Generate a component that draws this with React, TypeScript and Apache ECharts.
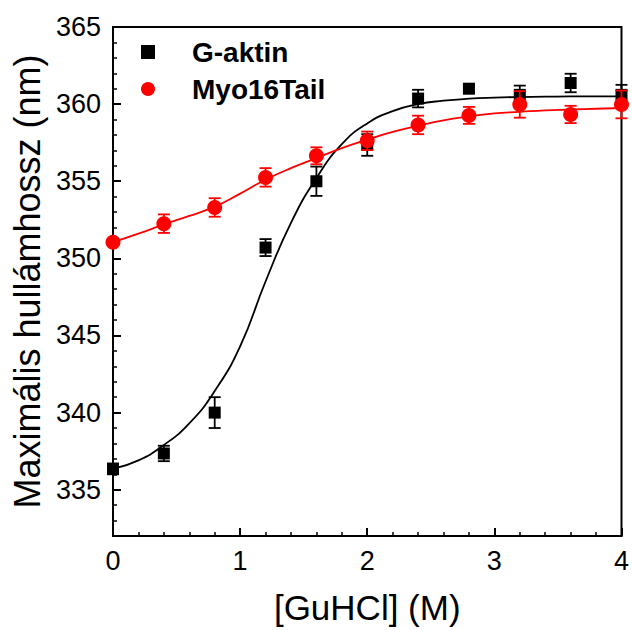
import React, { useEffect, useRef } from "react";
import * as echarts from "echarts";

const FONT = "'Liberation Sans', Arial, sans-serif";

// Measured points
const xVals = [0, 0.4, 0.8, 1.2, 1.6, 2.0, 2.4, 2.8, 3.2, 3.6, 4.0];
const aktinY = [336.35, 337.35, 340.0, 350.7, 355.0, 357.35, 360.36, 361.0, 360.6, 361.37, 360.6];
const aktinErr = [0.35, 0.5, 1.0, 0.55, 0.95, 0.7, 0.57, 0.25, 0.6, 0.6, 0.65];
const myoY = [351.05, 352.25, 353.3, 355.25, 356.65, 357.62, 358.65, 359.27, 359.98, 359.33, 359.98];
const myoErr = [0.2, 0.6, 0.6, 0.6, 0.55, 0.6, 0.6, 0.55, 0.86, 0.56, 0.9];

// Fit curves
const fitX = [0, 0.2, 0.4, 0.6, 0.8, 1.0, 1.2, 1.4, 1.6, 1.8, 2.0, 2.2, 2.4, 2.6, 2.8, 3.0, 3.2, 3.4, 3.6, 3.8, 4.0];
const aktinFit = [336.35, 336.9, 337.9, 339.3, 341.4, 344.3, 348.5, 352.3, 355.2, 357.4, 358.75, 359.55, 360.0, 360.22, 360.35, 360.42, 360.46, 360.48, 360.5, 360.5, 360.5];
const myoFit = [351.05, 351.6, 352.2, 352.75, 353.35, 354.2, 355.1, 355.85, 356.5, 357.15, 357.7, 358.2, 358.6, 358.95, 359.2, 359.4, 359.5, 359.6, 359.65, 359.7, 359.75];

const yMajorTicks = [335, 340, 345, 350, 355, 360, 365];

const errorBarSeries = (name: string, ys: number[], errs: number[], color: string, z: number) => ({
  type: "custom",
  name,
  z,
  data: xVals.map((x, i) => [x, ys[i], errs[i]]),
  encode: { x: 0, y: 1 },
  renderItem: (params: any, api: any) => {
    const x = api.value(0);
    const y = api.value(1);
    const e = api.value(2);
    const top = api.coord([x, y + e]);
    const bot = api.coord([x, y - e]);
    const cap = 6;
    const style = { stroke: color, lineWidth: 1.8 };
    return {
      type: "group",
      children: [
        { type: "line", shape: { x1: top[0], y1: top[1], x2: bot[0], y2: bot[1] }, style },
        { type: "line", shape: { x1: top[0] - cap, y1: top[1], x2: top[0] + cap, y2: top[1] }, style },
        { type: "line", shape: { x1: bot[0] - cap, y1: bot[1], x2: bot[0] + cap, y2: bot[1] }, style },
      ],
    };
  },
});

export default function App() {
  const ref = useRef<HTMLDivElement>(null);
  useEffect(() => {
    if (!ref.current) return;
    const chart = echarts.init(ref.current, null, { renderer: "svg" });
    chart.setOption({
      animation: false,
      backgroundColor: "#fff",
      grid: {
        left: 113,
        right: 7,
        top: 27,
        bottom: 91,
        show: true,
        borderColor: "#000",
        borderWidth: 2,
        backgroundColor: "transparent",
      },
      legend: {
        left: 136,
        top: 33,
        orient: "vertical",
        itemWidth: 14,
        itemHeight: 14,
        itemGap: 9,
        textStyle: {
          fontSize: 28,
          fontWeight: "bold",
          fontFamily: FONT,
          color: "#000",
          padding: [0, 0, 0, 32],
        },
        data: [
          { name: "G-aktin", icon: "rect", itemStyle: { color: "#000" } },
          { name: "Myo16Tail", icon: "circle", itemStyle: { color: "#ff0000" } },
        ],
      },
      xAxis: {
        type: "value",
        min: 0,
        max: 4,
        interval: 1,
        name: "[GuHCl] (M)",
        nameLocation: "middle",
        nameGap: 54,
        nameTextStyle: { fontSize: 35, fontFamily: FONT, color: "#000" },
        axisLine: { show: true, lineStyle: { color: "#000", width: 2 } },
        axisTick: { show: true, inside: true, length: 8, lineStyle: { color: "#000", width: 2 } },
        minorTick: { show: true, splitNumber: 5, length: 4, lineStyle: { color: "#000", width: 1.5 } },
        axisLabel: { fontSize: 27, fontFamily: FONT, color: "#000", margin: 11 },
        splitLine: { show: false },
      },
      yAxis: [
        {
          type: "value",
          min: 332,
          max: 365,
          interval: 1,
          name: "Maximális hullámhossz (nm)",
          nameLocation: "middle",
          nameGap: 62,
          nameTextStyle: { fontSize: 36, fontFamily: FONT, color: "#000" },
          axisLine: { show: true, lineStyle: { color: "#000", width: 2 } },
          axisTick: {
            show: true,
            inside: true,
            length: 8,
            customValues: yMajorTicks,
            lineStyle: { color: "#000", width: 2 },
          },
          axisLabel: {
            fontSize: 27,
            fontFamily: FONT,
            color: "#000",
            margin: 12,
            customValues: yMajorTicks,
          },
          splitLine: { show: false },
        },
        {
          type: "value",
          min: 332,
          max: 365,
          interval: 1,
          position: "left",
          offset: 0,
          axisLine: { show: false },
          axisTick: { show: true, inside: true, length: 4, lineStyle: { color: "#000", width: 1.5 } },
          axisLabel: { show: false },
          splitLine: { show: false },
        },
      ],
      series: [
        {
          type: "line",
          name: "G-aktin fit",
          data: fitX.map((x, i) => [x, aktinFit[i]]),
          smooth: 0.5,
          showSymbol: false,
          lineStyle: { color: "#000", width: 1.8 },
          z: 2,
        },
        errorBarSeries("G-aktin err", aktinY, aktinErr, "#000", 3),
        {
          type: "scatter",
          name: "G-aktin",
          data: xVals.map((x, i) => [x, aktinY[i]]),
          symbol: "rect",
          symbolSize: 12,
          itemStyle: { color: "#000", opacity: 1 },
          z: 4,
        },
        {
          type: "line",
          name: "Myo16Tail fit",
          data: fitX.map((x, i) => [x, myoFit[i]]),
          smooth: 0.5,
          showSymbol: false,
          lineStyle: { color: "#ff0000", width: 1.8 },
          z: 5,
        },
        errorBarSeries("Myo16Tail err", myoY, myoErr, "#ff0000", 6),
        {
          type: "scatter",
          name: "Myo16Tail",
          data: xVals.map((x, i) => [x, myoY[i]]),
          symbol: "circle",
          symbolSize: 15,
          itemStyle: { color: "#ff0000", opacity: 1 },
          z: 7,
        },
      ],
    });
    return () => chart.dispose();
  }, []);
  return (
    <div
      ref={ref}
      style={{ position: "fixed", left: 0, top: 0, width: 632, height: 630 }}
    />
  );
}
